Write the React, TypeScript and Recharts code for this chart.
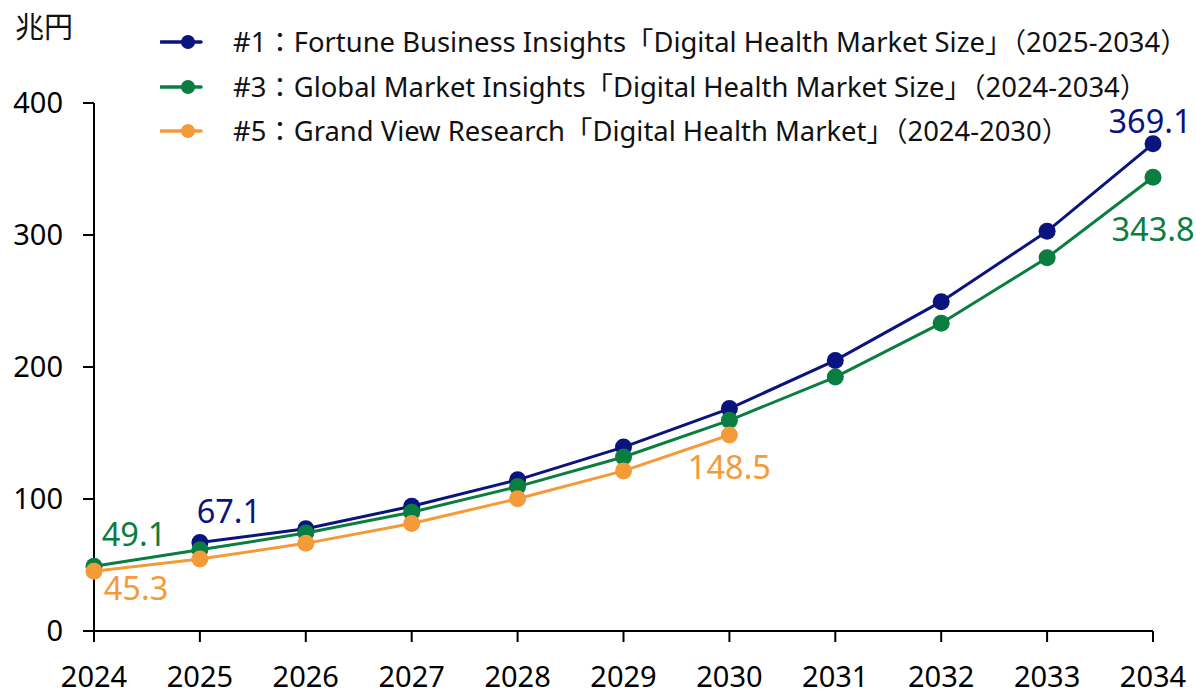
import React from 'react';
import { LineChart, Line, XAxis, YAxis, LabelList } from 'recharts';

const years = ['2024', '2025', '2026', '2027', '2028', '2029', '2030', '2031', '2032', '2033', '2034'];
const fortune = [null, 67.1, 77.5, 94.5, 114.5, 139.3, 168.5, 205.0, 249.5, 302.8, 369.1];
const gmi = [49.1, 61.5, 74.2, 90.0, 109.4, 131.8, 159.6, 192.4, 233.2, 282.8, 343.8];
const grandView = [45.3, 54.5, 66.4, 81.4, 100.2, 121.3, 148.5, null, null, null, null];
const yTicks = [0, 100, 200, 300, 400];

const seriesNames = [
  '#1：Fortune Business Insights「Digital Health Market Size」（2025-2034）',
  '#3：Global Market Insights「Digital Health Market Size」（2024-2034）',
  '#5：Grand View Research「Digital Health Market」（2024-2030）',
];

const NAVY = '#0a137e';
const GREEN = '#0a7d40';
const ORANGE = '#f59a38';
const seriesColors = [NAVY, GREEN, ORANGE];
const FONT = "'Noto Sans', 'Noto Sans CJK JP', sans-serif";

const data = years.map((year, i) => ({
  year,
  fortune: fortune[i],
  gmi: gmi[i],
  grandView: grandView[i],
}));

// which points get a value label, and where it sits relative to the dot
const labelSpots: Record<string, Record<number, [number, number]>> = {
  fortune: { 1: [29, -32], 10: [-3, -23] },
  gmi: { 0: [40, -33], 10: [0, 51] },
  grandView: { 0: [42, 16], 6: [0, 32] },
};

const makeLabel = (key: string, color: string) => (props: any) => {
  const spot = labelSpots[key][props.index];
  if (!spot || props.value == null) return null;
  return (
    <text
      x={props.x + spot[0]}
      y={props.y + spot[1]}
      fill={color}
      fontSize={32.5}
      fontFamily={FONT}
      textAnchor="middle"
      dominantBaseline="central"
    >
      {Number(props.value).toFixed(1)}
    </text>
  );
};

// legend sits over the chart so it doesn't eat into the plot area
const LegendBox = () => (
  <div style={{ position: 'absolute', top: 20, left: 160, fontFamily: FONT }}>
    {seriesNames.map((name, i) => (
      <div key={i} style={{ display: 'flex', alignItems: 'center', height: 44.5 }}>
        <svg width={73} height={20} style={{ flexShrink: 0 }}>
          <line x1={1} y1={10} x2={41} y2={10} stroke={seriesColors[i]} strokeWidth={3.5} strokeLinecap="round" />
          <circle cx={28} cy={10} r={7} fill={seriesColors[i]} />
        </svg>
        <span style={{ fontSize: 27.4, color: '#111', whiteSpace: 'nowrap', lineHeight: '30px' }}>{name}</span>
      </div>
    ))}
  </div>
);

export default function App() {
  return (
    <div style={{ position: 'absolute', left: 0, top: 0, width: 1196, height: 694, background: '#fff' }}>
      <LineChart width={1196} height={694} data={data} margin={{ top: 103, right: 43, bottom: 0, left: 0 }}>
        <XAxis
          dataKey="year"
          height={63}
          axisLine={{ stroke: '#000', strokeWidth: 2 }}
          tickLine={{ stroke: '#000', strokeWidth: 2 }}
          tickSize={11}
          tickMargin={24}
          tick={{ fill: '#000', fontSize: 29, fontFamily: FONT }}
          interval={0}
        />
        <YAxis
          width={94}
          domain={[0, 400]}
          ticks={yTicks}
          axisLine={{ stroke: '#000', strokeWidth: 2 }}
          tickLine={{ stroke: '#000', strokeWidth: 2 }}
          tickSize={11}
          tickMargin={20}
          tick={{ fill: '#000', fontSize: 29, fontFamily: FONT }}
        />
        <Line
          dataKey="fortune"
          name={seriesNames[0]}
          stroke={NAVY}
          strokeWidth={3}
          dot={{ r: 8.5, fill: NAVY, stroke: NAVY, strokeWidth: 0 }}
          isAnimationActive={false}
        >
          <LabelList dataKey="fortune" content={makeLabel('fortune', NAVY)} />
        </Line>
        <Line
          dataKey="gmi"
          name={seriesNames[1]}
          stroke={GREEN}
          strokeWidth={3}
          dot={{ r: 8.5, fill: GREEN, stroke: GREEN, strokeWidth: 0 }}
          isAnimationActive={false}
        >
          <LabelList dataKey="gmi" content={makeLabel('gmi', GREEN)} />
        </Line>
        <Line
          dataKey="grandView"
          name={seriesNames[2]}
          stroke={ORANGE}
          strokeWidth={3}
          dot={{ r: 8.5, fill: ORANGE, stroke: ORANGE, strokeWidth: 0 }}
          isAnimationActive={false}
        >
          <LabelList dataKey="grandView" content={makeLabel('grandView', ORANGE)} />
        </Line>
      </LineChart>
      <div style={{ position: 'absolute', left: 15, top: 8, fontSize: 29, fontFamily: FONT, color: '#111', lineHeight: '38px' }}>
        兆円
      </div>
      <LegendBox />
    </div>
  );
}
